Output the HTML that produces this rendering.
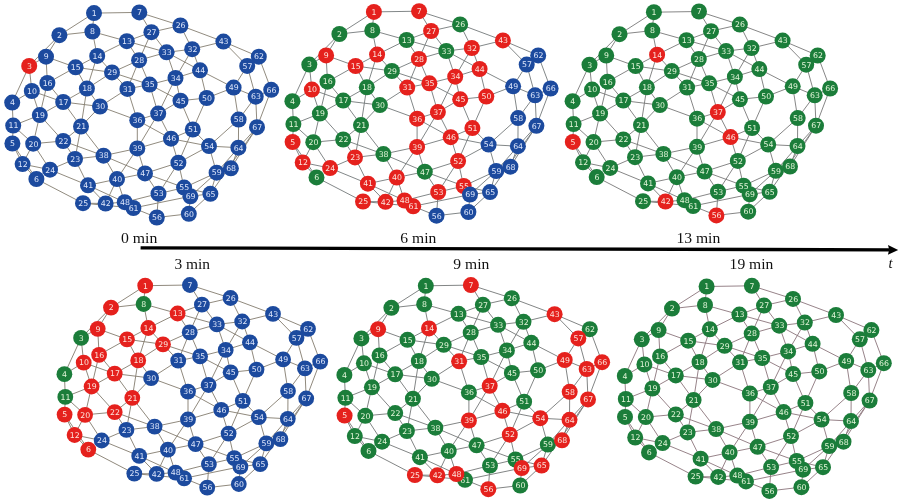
<!DOCTYPE html>
<html><head><meta charset="utf-8"><title>Network propagation over time</title>
<style>
html,body{margin:0;padding:0;background:#fff}
svg{display:block}
.e path{stroke:#7e7c78;stroke-width:0.9;fill:none}
.n text{font-family:"DejaVu Sans","Liberation Sans",sans-serif;font-size:7.8px;text-anchor:middle}
.b{fill:#1c4a9e}.r{fill:#e5211d}.g{fill:#1b7d3a}
.tb{fill:#dde6fb}.tr{fill:#fde4dc}.tg{fill:#e2f5d8}
.lb{font-family:"Liberation Serif",serif;font-size:14.6px;fill:#111}
.it{font-family:"Liberation Serif",serif;font-size:14.6px;font-style:italic;fill:#111}
</style></head><body>
<svg width="901" height="500" viewBox="0 0 901 500">
<rect width="901" height="500" fill="#fff"/>
<g class="e">
<path d="M94.0 13.1L139.3 12.4M94.0 13.1L59.4 35.2M94.0 13.1L92.4 31.6M59.4 35.2L92.4 31.6M59.4 35.2L46.0 56.7M59.4 35.2L29.2 65.9M29.2 65.9L46.0 56.7M29.2 65.9L12.2 102.6M29.2 65.9L31.8 91.0M139.3 12.4L151.4 32.2M139.3 12.4L180.4 25.5M92.4 31.6L126.8 41.2M92.4 31.6L97.2 55.9M46.0 56.7L75.6 67.3M46.0 56.7L47.4 83.0M126.8 41.2L97.2 55.9M126.8 41.2L151.4 32.2M126.8 41.2L166.6 52.3M126.8 41.2L139.1 60.2M97.2 55.9L75.6 67.3M97.2 55.9L86.9 88.6M97.2 55.9L112.0 72.4M75.6 67.3L47.4 83.0M75.6 67.3L86.9 88.6M75.6 67.3L112.0 72.4M31.8 91.0L63.2 102.0M31.8 91.0L39.8 115.1M31.8 91.0L12.2 102.6M47.4 83.0L63.2 102.0M47.4 83.0L39.8 115.1M63.2 102.0L86.9 88.6M63.2 102.0L100.0 106.5M63.2 102.0L39.8 115.1M63.2 102.0L81.0 126.5M86.9 88.6L112.0 72.4M86.9 88.6L100.0 106.5M86.9 88.6L81.0 126.5M39.8 115.1L13.2 125.6M39.8 115.1L33.2 143.7M39.8 115.1L63.2 141.0M12.2 102.6L13.2 125.6M13.2 125.6L12.4 143.5M13.2 125.6L33.2 143.7M12.4 143.5L22.6 164.1M12.4 143.5L36.4 179.0M33.2 143.7L63.2 141.0M33.2 143.7L22.6 164.1M33.2 143.7L50.0 169.7M81.0 126.5L63.2 141.0M81.0 126.5L100.0 106.5M81.0 126.5L75.0 159.0M81.0 126.5L103.5 155.7M63.2 141.0L75.0 159.0M63.2 141.0L103.5 155.7M75.0 159.0L103.5 155.7M75.0 159.0L50.0 169.7M75.0 159.0L88.0 185.3M22.6 164.1L50.0 169.7M22.6 164.1L36.4 179.0M50.0 169.7L88.0 185.3M36.4 179.0L83.0 203.2M100.0 106.5L127.4 88.9M100.0 106.5L137.3 120.2M127.4 88.9L112.0 72.4M127.4 88.9L139.1 60.2M127.4 88.9L149.6 84.6M127.4 88.9L137.3 120.2M112.0 72.4L139.1 60.2M112.0 72.4L149.6 84.6M139.1 60.2L151.4 32.2M139.1 60.2L166.6 52.3M139.1 60.2L149.6 84.6M149.6 84.6L175.5 78.0M149.6 84.6L158.2 113.6M149.6 84.6L180.5 100.7M137.3 120.2L158.2 113.6M137.3 120.2L137.3 148.4M137.3 120.2L171.0 138.7M158.2 113.6L175.5 78.0M158.2 113.6L180.5 100.7M158.2 113.6L171.0 138.7M158.2 113.6L137.3 148.4M103.5 155.7L137.3 148.4M103.5 155.7L117.0 179.1M103.5 155.7L145.0 173.4M137.3 148.4L171.0 138.7M137.3 148.4L145.0 173.4M137.3 148.4L117.0 179.1M117.0 179.1L88.0 185.3M117.0 179.1L145.0 173.4M117.0 179.1L105.6 203.5M117.0 179.1L124.7 202.2M88.0 185.3L105.6 203.5M88.0 185.3L124.7 202.2M83.0 203.2L105.6 203.5M105.6 203.5L124.7 202.2M145.0 173.4L178.4 162.7M145.0 173.4L158.5 193.7M145.0 173.4L184.1 187.6M158.5 193.7L178.4 162.7M158.5 193.7L156.8 217.5M158.5 193.7L184.1 187.6M156.8 217.5L188.8 213.8M188.8 213.8L190.4 196.3M188.8 213.8L210.4 193.8M133.4 208.0L156.8 217.5M180.4 25.5L151.4 32.2M180.4 25.5L223.4 41.6M180.4 25.5L192.2 49.2M151.4 32.2L166.6 52.3M166.6 52.3L192.2 49.2M166.6 52.3L175.5 78.0M166.6 52.3L200.0 70.3M192.2 49.2L223.4 41.6M192.2 49.2L200.0 70.3M192.2 49.2L175.5 78.0M223.4 41.6L258.8 56.7M223.4 41.6L247.2 65.9M258.8 56.7L247.2 65.9M258.8 56.7L271.2 89.8M247.2 65.9L233.6 87.6M247.2 65.9L255.7 96.7M200.0 70.3L175.5 78.0M200.0 70.3L206.7 98.0M200.0 70.3L233.6 87.6M233.6 87.6L206.7 98.0M233.6 87.6L255.7 96.7M233.6 87.6L238.6 119.6M175.5 78.0L180.5 100.7M180.5 100.7L206.7 98.0M180.5 100.7L192.8 129.5M206.7 98.0L192.8 129.5M192.8 129.5L171.0 138.7M192.8 129.5L209.0 146.1M192.8 129.5L178.4 162.7M171.0 138.7L178.4 162.7M171.0 138.7L209.0 146.1M178.4 162.7L209.0 146.1M178.4 162.7L184.1 187.6M209.0 146.1L238.6 119.6M209.0 146.1L238.4 147.7M209.0 146.1L216.6 172.7M238.6 119.6L255.7 96.7M238.6 119.6L238.4 147.7M255.7 96.7L271.2 89.8M255.7 96.7L257.0 127.2M271.2 89.8L257.0 127.2M257.0 127.2L238.4 147.7M257.0 127.2L230.9 168.3M238.4 147.7L230.9 168.3M238.4 147.7L216.6 172.7M257.0 127.2L210.4 193.8M216.6 172.7L184.1 187.6M216.6 172.7L210.4 193.8M216.6 172.7L190.4 196.3M184.1 187.6L190.4 196.3M210.4 193.8L190.4 196.3M124.7 202.2L158.5 193.7M133.4 208.0L190.4 196.3M184.1 187.6L210.4 193.8M83.0 203.2L133.4 208.0" style="stroke:#847e70"/>
</g>
<g class="n">
<circle class="r" cx="29.2" cy="65.9" r="8.0"/>
<text class="tr" x="29.4" y="68.7">3</text>
<circle class="b" cx="94.0" cy="13.1" r="8.0"/>
<circle class="b" cx="59.4" cy="35.2" r="8.0"/>
<circle class="b" cx="12.2" cy="102.6" r="8.0"/>
<circle class="b" cx="12.4" cy="143.5" r="8.0"/>
<circle class="b" cx="36.4" cy="179.0" r="8.0"/>
<circle class="b" cx="139.3" cy="12.4" r="8.0"/>
<circle class="b" cx="92.4" cy="31.6" r="8.0"/>
<circle class="b" cx="46.0" cy="56.7" r="8.0"/>
<circle class="b" cx="31.8" cy="91.0" r="8.0"/>
<circle class="b" cx="13.2" cy="125.6" r="8.0"/>
<circle class="b" cx="22.6" cy="164.1" r="8.0"/>
<circle class="b" cx="126.8" cy="41.2" r="8.0"/>
<circle class="b" cx="97.2" cy="55.9" r="8.0"/>
<circle class="b" cx="75.6" cy="67.3" r="8.0"/>
<circle class="b" cx="47.4" cy="83.0" r="8.0"/>
<circle class="b" cx="63.2" cy="102.0" r="8.0"/>
<circle class="b" cx="86.9" cy="88.6" r="8.0"/>
<circle class="b" cx="39.8" cy="115.1" r="8.0"/>
<circle class="b" cx="33.2" cy="143.7" r="8.0"/>
<circle class="b" cx="81.0" cy="126.5" r="8.0"/>
<circle class="b" cx="63.2" cy="141.0" r="8.0"/>
<circle class="b" cx="75.0" cy="159.0" r="8.0"/>
<circle class="b" cx="50.0" cy="169.7" r="8.0"/>
<circle class="b" cx="83.0" cy="203.2" r="8.0"/>
<circle class="b" cx="180.4" cy="25.5" r="8.0"/>
<circle class="b" cx="151.4" cy="32.2" r="8.0"/>
<circle class="b" cx="139.1" cy="60.2" r="8.0"/>
<circle class="b" cx="112.0" cy="72.4" r="8.0"/>
<circle class="b" cx="100.0" cy="106.5" r="8.0"/>
<circle class="b" cx="127.4" cy="88.9" r="8.0"/>
<circle class="b" cx="192.2" cy="49.2" r="8.0"/>
<circle class="b" cx="166.6" cy="52.3" r="8.0"/>
<circle class="b" cx="175.5" cy="78.0" r="8.0"/>
<circle class="b" cx="149.6" cy="84.6" r="8.0"/>
<circle class="b" cx="137.3" cy="120.2" r="8.0"/>
<circle class="b" cx="158.2" cy="113.6" r="8.0"/>
<circle class="b" cx="103.5" cy="155.7" r="8.0"/>
<circle class="b" cx="137.3" cy="148.4" r="8.0"/>
<circle class="b" cx="117.0" cy="179.1" r="8.0"/>
<circle class="b" cx="88.0" cy="185.3" r="8.0"/>
<circle class="b" cx="105.6" cy="203.5" r="8.0"/>
<circle class="b" cx="223.4" cy="41.6" r="8.0"/>
<circle class="b" cx="200.0" cy="70.3" r="8.0"/>
<circle class="b" cx="180.5" cy="100.7" r="8.0"/>
<circle class="b" cx="171.0" cy="138.7" r="8.0"/>
<circle class="b" cx="145.0" cy="173.4" r="8.0"/>
<circle class="b" cx="124.7" cy="202.2" r="8.0"/>
<circle class="b" cx="233.6" cy="87.6" r="8.0"/>
<circle class="b" cx="206.7" cy="98.0" r="8.0"/>
<circle class="b" cx="192.8" cy="129.5" r="8.0"/>
<circle class="b" cx="178.4" cy="162.7" r="8.0"/>
<circle class="b" cx="158.5" cy="193.7" r="8.0"/>
<circle class="b" cx="209.0" cy="146.1" r="8.0"/>
<circle class="b" cx="184.1" cy="187.6" r="8.0"/>
<circle class="b" cx="156.8" cy="217.5" r="8.0"/>
<circle class="b" cx="238.6" cy="119.6" r="8.0"/>
<circle class="b" cx="188.8" cy="213.8" r="8.0"/>
<circle class="b" cx="133.4" cy="208.0" r="8.0"/>
<circle class="b" cx="258.8" cy="56.7" r="8.0"/>
<circle class="b" cx="255.7" cy="96.7" r="8.0"/>
<circle class="b" cx="238.4" cy="147.7" r="8.0"/>
<circle class="b" cx="210.4" cy="193.8" r="8.0"/>
<circle class="b" cx="271.2" cy="89.8" r="8.0"/>
<circle class="b" cx="257.0" cy="127.2" r="8.0"/>
<circle class="b" cx="230.9" cy="168.3" r="8.0"/>
<circle class="b" cx="190.4" cy="196.3" r="8.0"/>
<circle class="b" cx="247.2" cy="65.9" r="8.0"/>
<circle class="b" cx="216.6" cy="172.7" r="8.0"/>
<text class="tb" x="94.2" y="15.8">1</text>
<text class="tb" x="59.6" y="37.9">2</text>
<text class="tb" x="12.4" y="105.4">4</text>
<text class="tb" x="12.6" y="146.3">5</text>
<text class="tb" x="36.6" y="181.7">6</text>
<text class="tb" x="139.5" y="15.1">7</text>
<text class="tb" x="92.6" y="34.3">8</text>
<text class="tb" x="46.2" y="59.4">9</text>
<text class="tb" x="32.0" y="93.7">10</text>
<text class="tb" x="13.4" y="128.4">11</text>
<text class="tb" x="22.8" y="166.9">12</text>
<text class="tb" x="127.0" y="44.0">13</text>
<text class="tb" x="97.4" y="58.6">14</text>
<text class="tb" x="75.8" y="70.1">15</text>
<text class="tb" x="47.6" y="85.8">16</text>
<text class="tb" x="63.4" y="104.8">17</text>
<text class="tb" x="87.1" y="91.4">18</text>
<text class="tb" x="40.0" y="117.8">19</text>
<text class="tb" x="33.4" y="146.5">20</text>
<text class="tb" x="81.2" y="129.3">21</text>
<text class="tb" x="63.4" y="143.8">22</text>
<text class="tb" x="75.2" y="161.7">23</text>
<text class="tb" x="50.2" y="172.5">24</text>
<text class="tb" x="83.2" y="206.0">25</text>
<text class="tb" x="180.6" y="28.3">26</text>
<text class="tb" x="151.6" y="34.9">27</text>
<text class="tb" x="139.3" y="62.9">28</text>
<text class="tb" x="112.2" y="75.1">29</text>
<text class="tb" x="100.2" y="109.3">30</text>
<text class="tb" x="127.6" y="91.7">31</text>
<text class="tb" x="192.4" y="52.0">32</text>
<text class="tb" x="166.8" y="55.0">33</text>
<text class="tb" x="175.7" y="80.7">34</text>
<text class="tb" x="149.8" y="87.4">35</text>
<text class="tb" x="137.5" y="122.9">36</text>
<text class="tb" x="158.4" y="116.3">37</text>
<text class="tb" x="103.7" y="158.4">38</text>
<text class="tb" x="137.5" y="151.2">39</text>
<text class="tb" x="117.2" y="181.8">40</text>
<text class="tb" x="88.2" y="188.1">41</text>
<text class="tb" x="105.8" y="206.3">42</text>
<text class="tb" x="223.6" y="44.4">43</text>
<text class="tb" x="200.2" y="73.1">44</text>
<text class="tb" x="180.7" y="103.5">45</text>
<text class="tb" x="171.2" y="141.4">46</text>
<text class="tb" x="145.2" y="176.1">47</text>
<text class="tb" x="124.9" y="205.0">48</text>
<text class="tb" x="233.8" y="90.4">49</text>
<text class="tb" x="206.9" y="100.7">50</text>
<text class="tb" x="193.0" y="132.3">51</text>
<text class="tb" x="178.6" y="165.5">52</text>
<text class="tb" x="158.7" y="196.4">53</text>
<text class="tb" x="209.2" y="148.9">54</text>
<text class="tb" x="184.3" y="190.4">55</text>
<text class="tb" x="157.0" y="220.2">56</text>
<text class="tb" x="238.8" y="122.3">58</text>
<text class="tb" x="189.0" y="216.5">60</text>
<text class="tb" x="133.6" y="210.8">61</text>
<text class="tb" x="259.0" y="59.4">62</text>
<text class="tb" x="255.9" y="99.4">63</text>
<text class="tb" x="238.6" y="150.5">64</text>
<text class="tb" x="210.6" y="196.5">65</text>
<text class="tb" x="271.4" y="92.6">66</text>
<text class="tb" x="257.2" y="130.0">67</text>
<text class="tb" x="231.1" y="171.1">68</text>
<text class="tb" x="190.6" y="199.0">69</text>
<text class="tb" x="247.4" y="68.7">57</text>
<text class="tb" x="216.8" y="175.4">59</text>
</g>
<g class="e">
<path d="M373.9 11.9L419.1 11.2M373.9 11.9L339.4 34.0M373.9 11.9L372.3 30.4M339.4 34.0L372.3 30.4M339.4 34.0L326.1 55.4M339.4 34.0L309.3 64.6M309.3 64.6L326.1 55.4M309.3 64.6L292.4 101.2M309.3 64.6L311.9 89.6M419.1 11.2L431.1 31.0M419.1 11.2L460.1 24.4M372.3 30.4L406.6 40.0M372.3 30.4L377.1 54.6M326.1 55.4L355.6 66.0M326.1 55.4L327.5 81.7M406.6 40.0L377.1 54.6M406.6 40.0L431.1 31.0M406.6 40.0L446.3 51.0M406.6 40.0L418.9 58.9M377.1 54.6L355.6 66.0M377.1 54.6L366.8 87.3M377.1 54.6L391.9 71.0M355.6 66.0L327.5 81.7M355.6 66.0L366.8 87.3M355.6 66.0L391.9 71.0M311.9 89.6L343.2 100.6M311.9 89.6L319.9 113.6M311.9 89.6L292.4 101.2M327.5 81.7L343.2 100.6M327.5 81.7L319.9 113.6M343.2 100.6L366.8 87.3M343.2 100.6L379.9 105.1M343.2 100.6L319.9 113.6M343.2 100.6L361.0 125.1M366.8 87.3L391.9 71.0M366.8 87.3L379.9 105.1M366.8 87.3L361.0 125.1M319.9 113.6L293.4 124.1M319.9 113.6L313.3 142.2M319.9 113.6L343.2 139.5M292.4 101.2L293.4 124.1M293.4 124.1L292.6 142.0M293.4 124.1L313.3 142.2M292.6 142.0L302.7 162.5M292.6 142.0L316.5 177.4M313.3 142.2L343.2 139.5M313.3 142.2L302.7 162.5M313.3 142.2L330.1 168.1M361.0 125.1L343.2 139.5M361.0 125.1L379.9 105.1M361.0 125.1L355.0 157.4M361.0 125.1L383.4 154.1M343.2 139.5L355.0 157.4M343.2 139.5L383.4 154.1M355.0 157.4L383.4 154.1M355.0 157.4L330.1 168.1M355.0 157.4L367.9 183.7M302.7 162.5L330.1 168.1M302.7 162.5L316.5 177.4M330.1 168.1L367.9 183.7M316.5 177.4L363.0 201.5M379.9 105.1L407.2 87.6M379.9 105.1L417.1 118.7M407.2 87.6L391.9 71.0M407.2 87.6L418.9 58.9M407.2 87.6L429.4 83.3M407.2 87.6L417.1 118.7M391.9 71.0L418.9 58.9M391.9 71.0L429.4 83.3M418.9 58.9L431.1 31.0M418.9 58.9L446.3 51.0M418.9 58.9L429.4 83.3M429.4 83.3L455.2 76.7M429.4 83.3L437.9 112.1M429.4 83.3L460.2 99.3M417.1 118.7L437.9 112.1M417.1 118.7L417.1 146.9M417.1 118.7L450.7 137.2M437.9 112.1L455.2 76.7M437.9 112.1L460.2 99.3M437.9 112.1L450.7 137.2M437.9 112.1L417.1 146.9M383.4 154.1L417.1 146.9M383.4 154.1L396.8 177.5M383.4 154.1L424.8 171.7M417.1 146.9L450.7 137.2M417.1 146.9L424.8 171.7M417.1 146.9L396.8 177.5M396.8 177.5L367.9 183.7M396.8 177.5L424.8 171.7M396.8 177.5L385.5 201.8M396.8 177.5L404.5 200.5M367.9 183.7L385.5 201.8M367.9 183.7L404.5 200.5M363.0 201.5L385.5 201.8M385.5 201.8L404.5 200.5M424.8 171.7L458.1 161.1M424.8 171.7L438.2 192.0M424.8 171.7L463.7 186.0M438.2 192.0L458.1 161.1M438.2 192.0L436.5 215.7M438.2 192.0L463.7 186.0M436.5 215.7L468.4 212.0M468.4 212.0L470.0 194.6M468.4 212.0L490.0 192.1M413.2 206.3L436.5 215.7M460.1 24.4L431.1 31.0M460.1 24.4L502.9 40.4M460.1 24.4L471.8 48.0M431.1 31.0L446.3 51.0M446.3 51.0L471.8 48.0M446.3 51.0L455.2 76.7M446.3 51.0L479.6 69.0M471.8 48.0L502.9 40.4M471.8 48.0L479.6 69.0M471.8 48.0L455.2 76.7M502.9 40.4L538.2 55.4M502.9 40.4L526.7 64.6M538.2 55.4L526.7 64.6M538.2 55.4L550.6 88.5M526.7 64.6L513.1 86.3M526.7 64.6L535.1 95.3M479.6 69.0L455.2 76.7M479.6 69.0L486.3 96.6M479.6 69.0L513.1 86.3M513.1 86.3L486.3 96.6M513.1 86.3L535.1 95.3M513.1 86.3L518.1 118.1M455.2 76.7L460.2 99.3M460.2 99.3L486.3 96.6M460.2 99.3L472.4 128.1M486.3 96.6L472.4 128.1M472.4 128.1L450.7 137.2M472.4 128.1L488.6 144.6M472.4 128.1L458.1 161.1M450.7 137.2L458.1 161.1M450.7 137.2L488.6 144.6M458.1 161.1L488.6 144.6M458.1 161.1L463.7 186.0M488.6 144.6L518.1 118.1M488.6 144.6L517.9 146.2M488.6 144.6L496.2 171.0M518.1 118.1L535.1 95.3M518.1 118.1L517.9 146.2M535.1 95.3L550.6 88.5M535.1 95.3L536.4 125.8M550.6 88.5L536.4 125.8M536.4 125.8L517.9 146.2M536.4 125.8L510.4 166.7M517.9 146.2L510.4 166.7M517.9 146.2L496.2 171.0M536.4 125.8L490.0 192.1M496.2 171.0L463.7 186.0M496.2 171.0L490.0 192.1M496.2 171.0L470.0 194.6M463.7 186.0L470.0 194.6M490.0 192.1L470.0 194.6M404.5 200.5L438.2 192.0M413.2 206.3L470.0 194.6M463.7 186.0L490.0 192.1M363.0 201.5L413.2 206.3" style="stroke:#74797a"/>
</g>
<g class="n">
<circle class="g" cx="339.4" cy="34.0" r="8.0"/>
<circle class="g" cx="309.3" cy="64.6" r="8.0"/>
<circle class="g" cx="292.4" cy="101.2" r="8.0"/>
<circle class="g" cx="316.5" cy="177.4" r="8.0"/>
<circle class="g" cx="372.3" cy="30.4" r="8.0"/>
<circle class="g" cx="293.4" cy="124.1" r="8.0"/>
<circle class="g" cx="406.6" cy="40.0" r="8.0"/>
<circle class="g" cx="327.5" cy="81.7" r="8.0"/>
<circle class="g" cx="343.2" cy="100.6" r="8.0"/>
<circle class="g" cx="366.8" cy="87.3" r="8.0"/>
<circle class="g" cx="319.9" cy="113.6" r="8.0"/>
<circle class="g" cx="313.3" cy="142.2" r="8.0"/>
<circle class="g" cx="361.0" cy="125.1" r="8.0"/>
<circle class="g" cx="343.2" cy="139.5" r="8.0"/>
<circle class="g" cx="460.1" cy="24.4" r="8.0"/>
<circle class="g" cx="391.9" cy="71.0" r="8.0"/>
<circle class="g" cx="379.9" cy="105.1" r="8.0"/>
<circle class="g" cx="446.3" cy="51.0" r="8.0"/>
<circle class="g" cx="383.4" cy="154.1" r="8.0"/>
<circle class="g" cx="424.8" cy="171.7" r="8.0"/>
<text class="tg" x="339.6" y="36.7">2</text>
<text class="tg" x="309.5" y="67.4">3</text>
<text class="tg" x="292.6" y="104.0">4</text>
<text class="tg" x="316.7" y="180.1">6</text>
<text class="tg" x="372.5" y="33.1">8</text>
<text class="tg" x="293.6" y="126.9">11</text>
<text class="tg" x="406.8" y="42.7">13</text>
<text class="tg" x="327.7" y="84.4">16</text>
<text class="tg" x="343.4" y="103.4">17</text>
<text class="tg" x="367.0" y="90.0">18</text>
<text class="tg" x="320.1" y="116.4">19</text>
<text class="tg" x="313.5" y="144.9">20</text>
<text class="tg" x="361.2" y="127.8">21</text>
<text class="tg" x="343.4" y="142.2">22</text>
<text class="tg" x="460.3" y="27.1">26</text>
<text class="tg" x="392.1" y="73.8">29</text>
<text class="tg" x="380.1" y="107.9">30</text>
<text class="tg" x="446.5" y="53.8">33</text>
<text class="tg" x="383.6" y="156.9">38</text>
<text class="tg" x="425.0" y="174.5">47</text>
<circle class="r" cx="373.9" cy="11.9" r="8.0"/>
<circle class="r" cx="292.6" cy="142.0" r="8.0"/>
<circle class="r" cx="419.1" cy="11.2" r="8.0"/>
<circle class="r" cx="326.1" cy="55.4" r="8.0"/>
<circle class="r" cx="311.9" cy="89.6" r="8.0"/>
<circle class="r" cx="302.7" cy="162.5" r="8.0"/>
<circle class="r" cx="377.1" cy="54.6" r="8.0"/>
<circle class="r" cx="355.6" cy="66.0" r="8.0"/>
<circle class="r" cx="355.0" cy="157.4" r="8.0"/>
<circle class="r" cx="330.1" cy="168.1" r="8.0"/>
<circle class="r" cx="363.0" cy="201.5" r="8.0"/>
<circle class="r" cx="431.1" cy="31.0" r="8.0"/>
<circle class="r" cx="418.9" cy="58.9" r="8.0"/>
<circle class="r" cx="407.2" cy="87.6" r="8.0"/>
<circle class="r" cx="471.8" cy="48.0" r="8.0"/>
<circle class="r" cx="455.2" cy="76.7" r="8.0"/>
<circle class="r" cx="429.4" cy="83.3" r="8.0"/>
<circle class="r" cx="417.1" cy="118.7" r="8.0"/>
<circle class="r" cx="437.9" cy="112.1" r="8.0"/>
<circle class="r" cx="417.1" cy="146.9" r="8.0"/>
<circle class="r" cx="396.8" cy="177.5" r="8.0"/>
<circle class="r" cx="367.9" cy="183.7" r="8.0"/>
<circle class="r" cx="385.5" cy="201.8" r="8.0"/>
<circle class="r" cx="502.9" cy="40.4" r="8.0"/>
<circle class="r" cx="479.6" cy="69.0" r="8.0"/>
<circle class="r" cx="460.2" cy="99.3" r="8.0"/>
<circle class="r" cx="450.7" cy="137.2" r="8.0"/>
<circle class="r" cx="404.5" cy="200.5" r="8.0"/>
<circle class="r" cx="486.3" cy="96.6" r="8.0"/>
<circle class="r" cx="472.4" cy="128.1" r="8.0"/>
<circle class="r" cx="458.1" cy="161.1" r="8.0"/>
<circle class="r" cx="438.2" cy="192.0" r="8.0"/>
<circle class="r" cx="463.7" cy="186.0" r="8.0"/>
<circle class="r" cx="413.2" cy="206.3" r="8.0"/>
<text class="tr" x="374.1" y="14.7">1</text>
<text class="tr" x="292.8" y="144.7">5</text>
<text class="tr" x="419.3" y="14.0">7</text>
<text class="tr" x="326.3" y="58.2">9</text>
<text class="tr" x="312.1" y="92.3">10</text>
<text class="tr" x="302.9" y="165.3">12</text>
<text class="tr" x="377.3" y="57.4">14</text>
<text class="tr" x="355.8" y="68.8">15</text>
<text class="tr" x="355.2" y="160.2">23</text>
<text class="tr" x="330.2" y="170.9">24</text>
<text class="tr" x="363.2" y="204.3">25</text>
<text class="tr" x="431.3" y="33.7">27</text>
<text class="tr" x="419.1" y="61.7">28</text>
<text class="tr" x="407.4" y="90.3">31</text>
<text class="tr" x="472.0" y="50.7">32</text>
<text class="tr" x="455.4" y="79.4">34</text>
<text class="tr" x="429.6" y="86.0">35</text>
<text class="tr" x="417.3" y="121.5">36</text>
<text class="tr" x="438.1" y="114.9">37</text>
<text class="tr" x="417.3" y="149.6">39</text>
<text class="tr" x="397.0" y="180.2">40</text>
<text class="tr" x="368.1" y="186.4">41</text>
<text class="tr" x="385.7" y="204.6">42</text>
<text class="tr" x="503.1" y="43.1">43</text>
<text class="tr" x="479.8" y="71.8">44</text>
<text class="tr" x="460.4" y="102.0">45</text>
<text class="tr" x="450.9" y="139.9">46</text>
<text class="tr" x="404.7" y="203.3">48</text>
<text class="tr" x="486.5" y="99.3">50</text>
<text class="tr" x="472.6" y="130.8">51</text>
<text class="tr" x="458.3" y="163.9">52</text>
<text class="tr" x="438.4" y="194.7">53</text>
<text class="tr" x="463.9" y="188.7">55</text>
<text class="tr" x="413.4" y="209.1">61</text>
<circle class="b" cx="513.1" cy="86.3" r="8.0"/>
<circle class="b" cx="488.6" cy="144.6" r="8.0"/>
<circle class="b" cx="436.5" cy="215.7" r="8.0"/>
<circle class="b" cx="518.1" cy="118.1" r="8.0"/>
<circle class="b" cx="468.4" cy="212.0" r="8.0"/>
<circle class="b" cx="538.2" cy="55.4" r="8.0"/>
<circle class="b" cx="535.1" cy="95.3" r="8.0"/>
<circle class="b" cx="517.9" cy="146.2" r="8.0"/>
<circle class="b" cx="490.0" cy="192.1" r="8.0"/>
<circle class="b" cx="550.6" cy="88.5" r="8.0"/>
<circle class="b" cx="536.4" cy="125.8" r="8.0"/>
<circle class="b" cx="510.4" cy="166.7" r="8.0"/>
<circle class="b" cx="470.0" cy="194.6" r="8.0"/>
<circle class="b" cx="526.7" cy="64.6" r="8.0"/>
<circle class="b" cx="496.2" cy="171.0" r="8.0"/>
<text class="tb" x="513.3" y="89.0">49</text>
<text class="tb" x="488.8" y="147.3">54</text>
<text class="tb" x="436.7" y="218.5">56</text>
<text class="tb" x="518.3" y="120.9">58</text>
<text class="tb" x="468.6" y="214.8">60</text>
<text class="tb" x="538.4" y="58.2">62</text>
<text class="tb" x="535.3" y="98.0">63</text>
<text class="tb" x="518.1" y="148.9">64</text>
<text class="tb" x="490.2" y="194.8">65</text>
<text class="tb" x="550.8" y="91.2">66</text>
<text class="tb" x="536.6" y="128.5">67</text>
<text class="tb" x="510.6" y="169.5">68</text>
<text class="tb" x="470.2" y="197.3">69</text>
<text class="tb" x="526.9" y="67.4">57</text>
<text class="tb" x="496.4" y="173.8">59</text>
</g>
<g class="e">
<path d="M653.9 12.2L699.0 11.5M653.9 12.2L619.5 34.2M653.9 12.2L652.3 30.6M619.5 34.2L652.3 30.6M619.5 34.2L606.2 55.5M619.5 34.2L589.5 64.7M589.5 64.7L606.2 55.5M589.5 64.7L572.6 101.2M589.5 64.7L592.1 89.6M699.0 11.5L711.0 31.2M699.0 11.5L739.8 24.6M652.3 30.6L686.5 40.2M652.3 30.6L657.1 54.7M606.2 55.5L635.6 66.1M606.2 55.5L607.6 81.7M686.5 40.2L657.1 54.7M686.5 40.2L711.0 31.2M686.5 40.2L726.1 51.1M686.5 40.2L698.8 59.0M657.1 54.7L635.6 66.1M657.1 54.7L646.9 87.3M657.1 54.7L671.8 71.1M635.6 66.1L607.6 81.7M635.6 66.1L646.9 87.3M635.6 66.1L671.8 71.1M592.1 89.6L623.3 100.6M592.1 89.6L600.1 113.6M592.1 89.6L572.6 101.2M607.6 81.7L623.3 100.6M607.6 81.7L600.1 113.6M623.3 100.6L646.9 87.3M623.3 100.6L659.9 105.1M623.3 100.6L600.1 113.6M623.3 100.6L641.0 125.0M646.9 87.3L671.8 71.1M646.9 87.3L659.9 105.1M646.9 87.3L641.0 125.0M600.1 113.6L573.6 124.1M600.1 113.6L593.5 142.1M600.1 113.6L623.3 139.4M572.6 101.2L573.6 124.1M573.6 124.1L572.8 141.9M573.6 124.1L593.5 142.1M572.8 141.9L583.0 162.3M572.8 141.9L596.7 177.1M593.5 142.1L623.3 139.4M593.5 142.1L583.0 162.3M593.5 142.1L610.2 167.9M641.0 125.0L623.3 139.4M641.0 125.0L659.9 105.1M641.0 125.0L635.0 157.2M641.0 125.0L663.4 153.9M623.3 139.4L635.0 157.2M623.3 139.4L663.4 153.9M635.0 157.2L663.4 153.9M635.0 157.2L610.2 167.9M635.0 157.2L648.0 183.4M583.0 162.3L610.2 167.9M583.0 162.3L596.7 177.1M610.2 167.9L648.0 183.4M596.7 177.1L643.0 201.2M659.9 105.1L687.1 87.6M659.9 105.1L697.0 118.7M687.1 87.6L671.8 71.1M687.1 87.6L698.8 59.0M687.1 87.6L709.2 83.3M687.1 87.6L697.0 118.7M671.8 71.1L698.8 59.0M671.8 71.1L709.2 83.3M698.8 59.0L711.0 31.2M698.8 59.0L726.1 51.1M698.8 59.0L709.2 83.3M709.2 83.3L734.9 76.7M709.2 83.3L717.8 112.1M709.2 83.3L739.9 99.3M697.0 118.7L717.8 112.1M697.0 118.7L697.0 146.8M697.0 118.7L730.5 137.1M717.8 112.1L734.9 76.7M717.8 112.1L739.9 99.3M717.8 112.1L730.5 137.1M717.8 112.1L697.0 146.8M663.4 153.9L697.0 146.8M663.4 153.9L676.8 177.2M663.4 153.9L704.6 171.5M697.0 146.8L730.5 137.1M697.0 146.8L704.6 171.5M697.0 146.8L676.8 177.2M676.8 177.2L648.0 183.4M676.8 177.2L704.6 171.5M676.8 177.2L665.5 201.5M676.8 177.2L684.5 200.2M648.0 183.4L665.5 201.5M648.0 183.4L684.5 200.2M643.0 201.2L665.5 201.5M665.5 201.5L684.5 200.2M704.6 171.5L737.8 160.9M704.6 171.5L718.0 191.7M704.6 171.5L743.5 185.7M718.0 191.7L737.8 160.9M718.0 191.7L716.4 215.4M718.0 191.7L743.5 185.7M716.4 215.4L748.2 211.7M748.2 211.7L749.8 194.3M748.2 211.7L769.6 191.8M693.1 206.0L716.4 215.4M739.8 24.6L711.0 31.2M739.8 24.6L782.6 40.6M739.8 24.6L751.5 48.1M711.0 31.2L726.1 51.1M726.1 51.1L751.5 48.1M726.1 51.1L734.9 76.7M726.1 51.1L759.3 69.1M751.5 48.1L782.6 40.6M751.5 48.1L759.3 69.1M751.5 48.1L734.9 76.7M782.6 40.6L817.7 55.5M782.6 40.6L806.2 64.7M817.7 55.5L806.2 64.7M817.7 55.5L830.1 88.5M806.2 64.7L792.7 86.3M806.2 64.7L814.7 95.3M759.3 69.1L734.9 76.7M759.3 69.1L766.0 96.6M759.3 69.1L792.7 86.3M792.7 86.3L766.0 96.6M792.7 86.3L814.7 95.3M792.7 86.3L797.7 118.1M734.9 76.7L739.9 99.3M739.9 99.3L766.0 96.6M739.9 99.3L752.1 128.0M766.0 96.6L752.1 128.0M752.1 128.0L730.5 137.1M752.1 128.0L768.2 144.5M752.1 128.0L737.8 160.9M730.5 137.1L737.8 160.9M730.5 137.1L768.2 144.5M737.8 160.9L768.2 144.5M737.8 160.9L743.5 185.7M768.2 144.5L797.7 118.1M768.2 144.5L797.5 146.0M768.2 144.5L775.8 170.8M797.7 118.1L814.7 95.3M797.7 118.1L797.5 146.0M814.7 95.3L830.1 88.5M814.7 95.3L816.0 125.7M830.1 88.5L816.0 125.7M816.0 125.7L797.5 146.0M816.0 125.7L790.0 166.5M797.5 146.0L790.0 166.5M797.5 146.0L775.8 170.8M816.0 125.7L769.6 191.8M775.8 170.8L743.5 185.7M775.8 170.8L769.6 191.8M775.8 170.8L749.8 194.3M743.5 185.7L749.8 194.3M769.6 191.8L749.8 194.3M684.5 200.2L718.0 191.7M693.1 206.0L749.8 194.3M743.5 185.7L769.6 191.8M643.0 201.2L693.1 206.0" style="stroke:#787878"/>
</g>
<g class="n">
<circle class="g" cx="653.9" cy="12.2" r="8.0"/>
<circle class="g" cx="619.5" cy="34.2" r="8.0"/>
<circle class="g" cx="589.5" cy="64.7" r="8.0"/>
<circle class="g" cx="572.6" cy="101.2" r="8.0"/>
<circle class="g" cx="596.7" cy="177.1" r="8.0"/>
<circle class="g" cx="699.0" cy="11.5" r="8.0"/>
<circle class="g" cx="652.3" cy="30.6" r="8.0"/>
<circle class="g" cx="606.2" cy="55.5" r="8.0"/>
<circle class="g" cx="592.1" cy="89.6" r="8.0"/>
<circle class="g" cx="573.6" cy="124.1" r="8.0"/>
<circle class="g" cx="583.0" cy="162.3" r="8.0"/>
<circle class="g" cx="686.5" cy="40.2" r="8.0"/>
<circle class="g" cx="635.6" cy="66.1" r="8.0"/>
<circle class="g" cx="607.6" cy="81.7" r="8.0"/>
<circle class="g" cx="623.3" cy="100.6" r="8.0"/>
<circle class="g" cx="646.9" cy="87.3" r="8.0"/>
<circle class="g" cx="600.1" cy="113.6" r="8.0"/>
<circle class="g" cx="593.5" cy="142.1" r="8.0"/>
<circle class="g" cx="641.0" cy="125.0" r="8.0"/>
<circle class="g" cx="623.3" cy="139.4" r="8.0"/>
<circle class="g" cx="635.0" cy="157.2" r="8.0"/>
<circle class="g" cx="610.2" cy="167.9" r="8.0"/>
<circle class="g" cx="643.0" cy="201.2" r="8.0"/>
<circle class="g" cx="739.8" cy="24.6" r="8.0"/>
<circle class="g" cx="711.0" cy="31.2" r="8.0"/>
<circle class="g" cx="698.8" cy="59.0" r="8.0"/>
<circle class="g" cx="671.8" cy="71.1" r="8.0"/>
<circle class="g" cx="659.9" cy="105.1" r="8.0"/>
<circle class="g" cx="687.1" cy="87.6" r="8.0"/>
<circle class="g" cx="751.5" cy="48.1" r="8.0"/>
<circle class="g" cx="726.1" cy="51.1" r="8.0"/>
<circle class="g" cx="734.9" cy="76.7" r="8.0"/>
<circle class="g" cx="709.2" cy="83.3" r="8.0"/>
<circle class="g" cx="697.0" cy="118.7" r="8.0"/>
<circle class="g" cx="663.4" cy="153.9" r="8.0"/>
<circle class="g" cx="697.0" cy="146.8" r="8.0"/>
<circle class="g" cx="676.8" cy="177.2" r="8.0"/>
<circle class="g" cx="648.0" cy="183.4" r="8.0"/>
<circle class="g" cx="782.6" cy="40.6" r="8.0"/>
<circle class="g" cx="759.3" cy="69.1" r="8.0"/>
<circle class="g" cx="739.9" cy="99.3" r="8.0"/>
<circle class="g" cx="704.6" cy="171.5" r="8.0"/>
<circle class="g" cx="684.5" cy="200.2" r="8.0"/>
<circle class="g" cx="792.7" cy="86.3" r="8.0"/>
<circle class="g" cx="766.0" cy="96.6" r="8.0"/>
<circle class="g" cx="752.1" cy="128.0" r="8.0"/>
<circle class="g" cx="737.8" cy="160.9" r="8.0"/>
<circle class="g" cx="718.0" cy="191.7" r="8.0"/>
<circle class="g" cx="768.2" cy="144.5" r="8.0"/>
<circle class="g" cx="743.5" cy="185.7" r="8.0"/>
<circle class="g" cx="797.7" cy="118.1" r="8.0"/>
<circle class="g" cx="748.2" cy="211.7" r="8.0"/>
<circle class="g" cx="693.1" cy="206.0" r="8.0"/>
<circle class="g" cx="817.7" cy="55.5" r="8.0"/>
<circle class="g" cx="814.7" cy="95.3" r="8.0"/>
<circle class="g" cx="797.5" cy="146.0" r="8.0"/>
<circle class="g" cx="769.6" cy="191.8" r="8.0"/>
<circle class="g" cx="830.1" cy="88.5" r="8.0"/>
<circle class="g" cx="816.0" cy="125.7" r="8.0"/>
<circle class="g" cx="790.0" cy="166.5" r="8.0"/>
<circle class="g" cx="749.8" cy="194.3" r="8.0"/>
<circle class="g" cx="806.2" cy="64.7" r="8.0"/>
<circle class="g" cx="775.8" cy="170.8" r="8.0"/>
<text class="tg" x="654.1" y="14.9">1</text>
<text class="tg" x="619.7" y="36.9">2</text>
<text class="tg" x="589.7" y="67.5">3</text>
<text class="tg" x="572.8" y="103.9">4</text>
<text class="tg" x="596.9" y="179.9">6</text>
<text class="tg" x="699.2" y="14.2">7</text>
<text class="tg" x="652.5" y="33.3">8</text>
<text class="tg" x="606.4" y="58.3">9</text>
<text class="tg" x="592.3" y="92.4">10</text>
<text class="tg" x="573.8" y="126.8">11</text>
<text class="tg" x="583.2" y="165.1">12</text>
<text class="tg" x="686.7" y="42.9">13</text>
<text class="tg" x="635.8" y="68.9">15</text>
<text class="tg" x="607.8" y="84.5">16</text>
<text class="tg" x="623.5" y="103.3">17</text>
<text class="tg" x="647.1" y="90.1">18</text>
<text class="tg" x="600.3" y="116.3">19</text>
<text class="tg" x="593.7" y="144.8">20</text>
<text class="tg" x="641.2" y="127.7">21</text>
<text class="tg" x="623.5" y="142.1">22</text>
<text class="tg" x="635.2" y="160.0">23</text>
<text class="tg" x="610.4" y="170.7">24</text>
<text class="tg" x="643.2" y="203.9">25</text>
<text class="tg" x="740.0" y="27.3">26</text>
<text class="tg" x="711.2" y="33.9">27</text>
<text class="tg" x="699.0" y="61.8">28</text>
<text class="tg" x="672.0" y="73.9">29</text>
<text class="tg" x="660.1" y="107.8">30</text>
<text class="tg" x="687.3" y="90.4">31</text>
<text class="tg" x="751.7" y="50.9">32</text>
<text class="tg" x="726.3" y="53.9">33</text>
<text class="tg" x="735.1" y="79.5">34</text>
<text class="tg" x="709.4" y="86.1">35</text>
<text class="tg" x="697.2" y="121.4">36</text>
<text class="tg" x="663.6" y="156.7">38</text>
<text class="tg" x="697.2" y="149.5">39</text>
<text class="tg" x="677.0" y="180.0">40</text>
<text class="tg" x="648.2" y="186.2">41</text>
<text class="tg" x="782.8" y="43.3">43</text>
<text class="tg" x="759.5" y="71.9">44</text>
<text class="tg" x="740.1" y="102.0">45</text>
<text class="tg" x="704.8" y="174.3">47</text>
<text class="tg" x="684.7" y="202.9">48</text>
<text class="tg" x="792.9" y="89.1">49</text>
<text class="tg" x="766.2" y="99.3">50</text>
<text class="tg" x="752.3" y="130.7">51</text>
<text class="tg" x="738.0" y="163.7">52</text>
<text class="tg" x="718.2" y="194.5">53</text>
<text class="tg" x="768.4" y="147.2">54</text>
<text class="tg" x="743.7" y="188.5">55</text>
<text class="tg" x="797.9" y="120.8">58</text>
<text class="tg" x="748.4" y="214.4">60</text>
<text class="tg" x="693.3" y="208.7">61</text>
<text class="tg" x="817.9" y="58.3">62</text>
<text class="tg" x="814.9" y="98.1">63</text>
<text class="tg" x="797.7" y="148.8">64</text>
<text class="tg" x="769.8" y="194.6">65</text>
<text class="tg" x="830.3" y="91.3">66</text>
<text class="tg" x="816.2" y="128.4">67</text>
<text class="tg" x="790.2" y="169.3">68</text>
<text class="tg" x="750.0" y="197.1">69</text>
<text class="tg" x="806.4" y="67.5">57</text>
<text class="tg" x="776.0" y="173.6">59</text>
<circle class="r" cx="572.8" cy="141.9" r="8.0"/>
<circle class="r" cx="657.1" cy="54.7" r="8.0"/>
<circle class="r" cx="717.8" cy="112.1" r="8.0"/>
<circle class="r" cx="665.5" cy="201.5" r="8.0"/>
<circle class="r" cx="730.5" cy="137.1" r="8.0"/>
<circle class="r" cx="716.4" cy="215.4" r="8.0"/>
<text class="tr" x="573.0" y="144.6">5</text>
<text class="tr" x="657.3" y="57.5">14</text>
<text class="tr" x="718.0" y="114.8">37</text>
<text class="tr" x="665.7" y="204.2">42</text>
<text class="tr" x="730.7" y="139.8">46</text>
<text class="tr" x="716.6" y="218.1">56</text>
</g>
<g class="e">
<path d="M145.2 285.7L189.9 285.0M145.2 285.7L111.0 307.6M145.2 285.7L143.6 304.0M111.0 307.6L143.6 304.0M111.0 307.6L97.7 328.8M111.0 307.6L81.1 337.9M81.1 337.9L97.7 328.8M81.1 337.9L64.4 374.2M81.1 337.9L83.7 362.7M189.9 285.0L201.9 304.6M189.9 285.0L230.5 298.0M143.6 304.0L177.6 313.5M143.6 304.0L148.3 328.0M97.7 328.8L127.0 339.3M97.7 328.8L99.1 354.8M177.6 313.5L148.3 328.0M177.6 313.5L201.9 304.6M177.6 313.5L216.9 324.4M177.6 313.5L189.7 332.3M148.3 328.0L127.0 339.3M148.3 328.0L138.2 360.4M148.3 328.0L163.0 344.3M127.0 339.3L99.1 354.8M127.0 339.3L138.2 360.4M127.0 339.3L163.0 344.3M83.7 362.7L114.7 373.6M83.7 362.7L91.6 386.5M83.7 362.7L64.4 374.2M99.1 354.8L114.7 373.6M99.1 354.8L91.6 386.5M114.7 373.6L138.2 360.4M114.7 373.6L151.1 378.1M114.7 373.6L91.6 386.5M114.7 373.6L132.3 397.8M138.2 360.4L163.0 344.3M138.2 360.4L151.1 378.1M138.2 360.4L132.3 397.8M91.6 386.5L65.3 396.9M91.6 386.5L85.1 414.8M91.6 386.5L114.7 412.1M64.4 374.2L65.3 396.9M65.3 396.9L64.6 414.6M65.3 396.9L85.1 414.8M64.6 414.6L74.6 435.0M64.6 414.6L88.3 449.6M85.1 414.8L114.7 412.1M85.1 414.8L74.6 435.0M85.1 414.8L101.7 440.5M132.3 397.8L114.7 412.1M132.3 397.8L151.1 378.1M132.3 397.8L126.4 429.9M132.3 397.8L154.6 426.6M114.7 412.1L126.4 429.9M114.7 412.1L154.6 426.6M126.4 429.9L154.6 426.6M126.4 429.9L101.7 440.5M126.4 429.9L139.2 455.9M74.6 435.0L101.7 440.5M74.6 435.0L88.3 449.6M101.7 440.5L139.2 455.9M88.3 449.6L134.3 473.6M151.1 378.1L178.2 360.7M151.1 378.1L188.0 391.6M178.2 360.7L163.0 344.3M178.2 360.7L189.7 332.3M178.2 360.7L200.1 356.4M178.2 360.7L188.0 391.6M163.0 344.3L189.7 332.3M163.0 344.3L200.1 356.4M189.7 332.3L201.9 304.6M189.7 332.3L216.9 324.4M189.7 332.3L200.1 356.4M200.1 356.4L225.7 349.9M200.1 356.4L208.6 385.0M200.1 356.4L230.6 372.3M188.0 391.6L208.6 385.0M188.0 391.6L188.0 419.5M188.0 391.6L221.2 409.8M208.6 385.0L225.7 349.9M208.6 385.0L230.6 372.3M208.6 385.0L221.2 409.8M208.6 385.0L188.0 419.5M154.6 426.6L188.0 419.5M154.6 426.6L167.9 449.7M154.6 426.6L195.6 444.1M188.0 419.5L221.2 409.8M188.0 419.5L195.6 444.1M188.0 419.5L167.9 449.7M167.9 449.7L139.2 455.9M167.9 449.7L195.6 444.1M167.9 449.7L156.6 473.9M167.9 449.7L175.5 472.6M139.2 455.9L156.6 473.9M139.2 455.9L175.5 472.6M134.3 473.6L156.6 473.9M156.6 473.9L175.5 472.6M195.6 444.1L228.6 433.6M195.6 444.1L208.9 464.1M195.6 444.1L234.2 458.2M208.9 464.1L228.6 433.6M208.9 464.1L207.2 487.7M208.9 464.1L234.2 458.2M207.2 487.7L238.8 484.0M238.8 484.0L240.4 466.7M238.8 484.0L260.2 464.2M184.1 478.3L207.2 487.7M230.5 298.0L201.9 304.6M230.5 298.0L273.0 313.9M230.5 298.0L242.2 321.5M201.9 304.6L216.9 324.4M216.9 324.4L242.2 321.5M216.9 324.4L225.7 349.9M216.9 324.4L249.9 342.3M242.2 321.5L273.0 313.9M242.2 321.5L249.9 342.3M242.2 321.5L225.7 349.9M273.0 313.9L308.0 328.8M273.0 313.9L296.5 337.9M308.0 328.8L296.5 337.9M308.0 328.8L320.2 361.6M296.5 337.9L283.1 359.4M296.5 337.9L304.9 368.3M249.9 342.3L225.7 349.9M249.9 342.3L256.5 369.6M249.9 342.3L283.1 359.4M283.1 359.4L256.5 369.6M283.1 359.4L304.9 368.3M283.1 359.4L288.0 391.0M225.7 349.9L230.6 372.3M230.6 372.3L256.5 369.6M230.6 372.3L242.8 400.8M256.5 369.6L242.8 400.8M242.8 400.8L221.2 409.8M242.8 400.8L258.8 417.2M242.8 400.8L228.6 433.6M221.2 409.8L228.6 433.6M221.2 409.8L258.8 417.2M228.6 433.6L258.8 417.2M228.6 433.6L234.2 458.2M258.8 417.2L288.0 391.0M258.8 417.2L287.8 418.8M258.8 417.2L266.3 443.4M288.0 391.0L304.9 368.3M288.0 391.0L287.8 418.8M304.9 368.3L320.2 361.6M304.9 368.3L306.2 398.5M320.2 361.6L306.2 398.5M306.2 398.5L287.8 418.8M306.2 398.5L280.4 439.1M287.8 418.8L280.4 439.1M287.8 418.8L266.3 443.4M306.2 398.5L260.2 464.2M266.3 443.4L234.2 458.2M266.3 443.4L260.2 464.2M266.3 443.4L240.4 466.7M234.2 458.2L240.4 466.7M260.2 464.2L240.4 466.7M175.5 472.6L208.9 464.1M184.1 478.3L240.4 466.7M234.2 458.2L260.2 464.2M134.3 473.6L184.1 478.3" style="stroke:#837c6e"/>
</g>
<g class="n">
<circle class="g" cx="81.1" cy="337.9" r="7.9"/>
<circle class="g" cx="64.4" cy="374.2" r="7.9"/>
<circle class="g" cx="143.6" cy="304.0" r="7.9"/>
<circle class="g" cx="65.3" cy="396.9" r="7.9"/>
<text class="tg" x="81.3" y="340.7">3</text>
<text class="tg" x="64.6" y="376.9">4</text>
<text class="tg" x="143.8" y="306.7">8</text>
<text class="tg" x="65.5" y="399.7">11</text>
<circle class="r" cx="145.2" cy="285.7" r="7.9"/>
<circle class="r" cx="111.0" cy="307.6" r="7.9"/>
<circle class="r" cx="64.6" cy="414.6" r="7.9"/>
<circle class="r" cx="88.3" cy="449.6" r="7.9"/>
<circle class="r" cx="97.7" cy="328.8" r="7.9"/>
<circle class="r" cx="83.7" cy="362.7" r="7.9"/>
<circle class="r" cx="74.6" cy="435.0" r="7.9"/>
<circle class="r" cx="177.6" cy="313.5" r="7.9"/>
<circle class="r" cx="148.3" cy="328.0" r="7.9"/>
<circle class="r" cx="127.0" cy="339.3" r="7.9"/>
<circle class="r" cx="99.1" cy="354.8" r="7.9"/>
<circle class="r" cx="114.7" cy="373.6" r="7.9"/>
<circle class="r" cx="138.2" cy="360.4" r="7.9"/>
<circle class="r" cx="91.6" cy="386.5" r="7.9"/>
<circle class="r" cx="85.1" cy="414.8" r="7.9"/>
<circle class="r" cx="132.3" cy="397.8" r="7.9"/>
<circle class="r" cx="114.7" cy="412.1" r="7.9"/>
<circle class="r" cx="163.0" cy="344.3" r="7.9"/>
<text class="tr" x="145.4" y="288.5">1</text>
<text class="tr" x="111.2" y="310.3">2</text>
<text class="tr" x="64.8" y="417.3">5</text>
<text class="tr" x="88.5" y="452.4">6</text>
<text class="tr" x="97.9" y="331.6">9</text>
<text class="tr" x="83.9" y="365.4">10</text>
<text class="tr" x="74.8" y="437.7">12</text>
<text class="tr" x="177.8" y="316.3">13</text>
<text class="tr" x="148.5" y="330.8">14</text>
<text class="tr" x="127.2" y="342.1">15</text>
<text class="tr" x="99.3" y="357.6">16</text>
<text class="tr" x="114.9" y="376.3">17</text>
<text class="tr" x="138.4" y="363.1">18</text>
<text class="tr" x="91.8" y="389.2">19</text>
<text class="tr" x="85.3" y="417.5">20</text>
<text class="tr" x="132.5" y="400.6">21</text>
<text class="tr" x="114.9" y="414.9">22</text>
<text class="tr" x="163.2" y="347.0">29</text>
<circle class="b" cx="189.9" cy="285.0" r="7.9"/>
<circle class="b" cx="126.4" cy="429.9" r="7.9"/>
<circle class="b" cx="101.7" cy="440.5" r="7.9"/>
<circle class="b" cx="134.3" cy="473.6" r="7.9"/>
<circle class="b" cx="230.5" cy="298.0" r="7.9"/>
<circle class="b" cx="201.9" cy="304.6" r="7.9"/>
<circle class="b" cx="189.7" cy="332.3" r="7.9"/>
<circle class="b" cx="151.1" cy="378.1" r="7.9"/>
<circle class="b" cx="178.2" cy="360.7" r="7.9"/>
<circle class="b" cx="242.2" cy="321.5" r="7.9"/>
<circle class="b" cx="216.9" cy="324.4" r="7.9"/>
<circle class="b" cx="225.7" cy="349.9" r="7.9"/>
<circle class="b" cx="200.1" cy="356.4" r="7.9"/>
<circle class="b" cx="188.0" cy="391.6" r="7.9"/>
<circle class="b" cx="208.6" cy="385.0" r="7.9"/>
<circle class="b" cx="154.6" cy="426.6" r="7.9"/>
<circle class="b" cx="188.0" cy="419.5" r="7.9"/>
<circle class="b" cx="167.9" cy="449.7" r="7.9"/>
<circle class="b" cx="139.2" cy="455.9" r="7.9"/>
<circle class="b" cx="156.6" cy="473.9" r="7.9"/>
<circle class="b" cx="273.0" cy="313.9" r="7.9"/>
<circle class="b" cx="249.9" cy="342.3" r="7.9"/>
<circle class="b" cx="230.6" cy="372.3" r="7.9"/>
<circle class="b" cx="221.2" cy="409.8" r="7.9"/>
<circle class="b" cx="195.6" cy="444.1" r="7.9"/>
<circle class="b" cx="175.5" cy="472.6" r="7.9"/>
<circle class="b" cx="283.1" cy="359.4" r="7.9"/>
<circle class="b" cx="256.5" cy="369.6" r="7.9"/>
<circle class="b" cx="242.8" cy="400.8" r="7.9"/>
<circle class="b" cx="228.6" cy="433.6" r="7.9"/>
<circle class="b" cx="208.9" cy="464.1" r="7.9"/>
<circle class="b" cx="258.8" cy="417.2" r="7.9"/>
<circle class="b" cx="234.2" cy="458.2" r="7.9"/>
<circle class="b" cx="207.2" cy="487.7" r="7.9"/>
<circle class="b" cx="288.0" cy="391.0" r="7.9"/>
<circle class="b" cx="238.8" cy="484.0" r="7.9"/>
<circle class="b" cx="184.1" cy="478.3" r="7.9"/>
<circle class="b" cx="308.0" cy="328.8" r="7.9"/>
<circle class="b" cx="304.9" cy="368.3" r="7.9"/>
<circle class="b" cx="287.8" cy="418.8" r="7.9"/>
<circle class="b" cx="260.2" cy="464.2" r="7.9"/>
<circle class="b" cx="320.2" cy="361.6" r="7.9"/>
<circle class="b" cx="306.2" cy="398.5" r="7.9"/>
<circle class="b" cx="280.4" cy="439.1" r="7.9"/>
<circle class="b" cx="240.4" cy="466.7" r="7.9"/>
<circle class="b" cx="296.5" cy="337.9" r="7.9"/>
<circle class="b" cx="266.3" cy="443.4" r="7.9"/>
<text class="tb" x="190.1" y="287.8">7</text>
<text class="tb" x="126.6" y="432.6">23</text>
<text class="tb" x="101.9" y="443.3">24</text>
<text class="tb" x="134.5" y="476.3">25</text>
<text class="tb" x="230.7" y="300.8">26</text>
<text class="tb" x="202.1" y="307.3">27</text>
<text class="tb" x="189.9" y="335.0">28</text>
<text class="tb" x="151.3" y="380.8">30</text>
<text class="tb" x="178.4" y="363.4">31</text>
<text class="tb" x="242.4" y="324.2">32</text>
<text class="tb" x="217.1" y="327.2">33</text>
<text class="tb" x="225.9" y="352.6">34</text>
<text class="tb" x="200.3" y="359.2">35</text>
<text class="tb" x="188.2" y="394.3">36</text>
<text class="tb" x="208.8" y="387.8">37</text>
<text class="tb" x="154.8" y="429.4">38</text>
<text class="tb" x="188.2" y="422.2">39</text>
<text class="tb" x="168.1" y="452.5">40</text>
<text class="tb" x="139.4" y="458.7">41</text>
<text class="tb" x="156.8" y="476.6">42</text>
<text class="tb" x="273.2" y="316.7">43</text>
<text class="tb" x="250.1" y="345.1">44</text>
<text class="tb" x="230.8" y="375.0">45</text>
<text class="tb" x="221.4" y="412.6">46</text>
<text class="tb" x="195.8" y="446.8">47</text>
<text class="tb" x="175.7" y="475.3">48</text>
<text class="tb" x="283.3" y="362.1">49</text>
<text class="tb" x="256.7" y="372.4">50</text>
<text class="tb" x="243.0" y="403.5">51</text>
<text class="tb" x="228.8" y="436.3">52</text>
<text class="tb" x="209.1" y="466.9">53</text>
<text class="tb" x="259.0" y="419.9">54</text>
<text class="tb" x="234.4" y="460.9">55</text>
<text class="tb" x="207.4" y="490.4">56</text>
<text class="tb" x="288.2" y="393.7">58</text>
<text class="tb" x="239.0" y="486.7">60</text>
<text class="tb" x="184.3" y="481.1">61</text>
<text class="tb" x="308.2" y="331.6">62</text>
<text class="tb" x="305.1" y="371.1">63</text>
<text class="tb" x="288.0" y="421.5">64</text>
<text class="tb" x="260.4" y="467.0">65</text>
<text class="tb" x="320.4" y="364.3">66</text>
<text class="tb" x="306.4" y="401.3">67</text>
<text class="tb" x="280.6" y="441.9">68</text>
<text class="tb" x="240.6" y="469.5">69</text>
<text class="tb" x="296.7" y="340.7">57</text>
<text class="tb" x="266.5" y="446.1">59</text>
</g>
<g class="e">
<path d="M425.8 285.8L470.9 285.1M425.8 285.8L391.4 307.8M425.8 285.8L424.2 304.2M391.4 307.8L424.2 304.2M391.4 307.8L378.1 329.2M391.4 307.8L361.4 338.4M361.4 338.4L378.1 329.2M361.4 338.4L344.4 374.9M361.4 338.4L363.9 363.3M470.9 285.1L482.9 304.8M470.9 285.1L511.8 298.2M424.2 304.2L458.5 313.8M424.2 304.2L429.0 328.4M378.1 329.2L407.5 339.8M378.1 329.2L379.5 355.4M458.5 313.8L429.0 328.4M458.5 313.8L482.9 304.8M458.5 313.8L498.1 324.8M458.5 313.8L470.7 332.7M429.0 328.4L407.5 339.8M429.0 328.4L418.8 361.0M429.0 328.4L443.7 344.8M407.5 339.8L379.5 355.4M407.5 339.8L418.8 361.0M407.5 339.8L443.7 344.8M363.9 363.3L395.2 374.3M363.9 363.3L371.9 387.3M363.9 363.3L344.4 374.9M379.5 355.4L395.2 374.3M379.5 355.4L371.9 387.3M395.2 374.3L418.8 361.0M395.2 374.3L431.8 378.8M395.2 374.3L371.9 387.3M395.2 374.3L412.9 398.7M418.8 361.0L443.7 344.8M418.8 361.0L431.8 378.8M418.8 361.0L412.9 398.7M371.9 387.3L345.4 397.8M371.9 387.3L365.3 415.8M371.9 387.3L395.2 413.1M344.4 374.9L345.4 397.8M345.4 397.8L344.6 415.6M345.4 397.8L365.3 415.8M344.6 415.6L354.8 436.1M344.6 415.6L368.5 450.9M365.3 415.8L395.2 413.1M365.3 415.8L354.8 436.1M365.3 415.8L382.1 441.7M412.9 398.7L395.2 413.1M412.9 398.7L431.8 378.8M412.9 398.7L406.9 431.0M412.9 398.7L435.3 427.7M395.2 413.1L406.9 431.0M395.2 413.1L435.3 427.7M406.9 431.0L435.3 427.7M406.9 431.0L382.1 441.7M406.9 431.0L419.9 457.2M354.8 436.1L382.1 441.7M354.8 436.1L368.5 450.9M382.1 441.7L419.9 457.2M368.5 450.9L414.9 475.0M431.8 378.8L459.1 361.3M431.8 378.8L468.9 392.4M459.1 361.3L443.7 344.8M459.1 361.3L470.7 332.7M459.1 361.3L481.2 357.0M459.1 361.3L468.9 392.4M443.7 344.8L470.7 332.7M443.7 344.8L481.2 357.0M470.7 332.7L482.9 304.8M470.7 332.7L498.1 324.8M470.7 332.7L481.2 357.0M481.2 357.0L506.9 350.4M481.2 357.0L489.7 385.8M481.2 357.0L511.9 373.0M468.9 392.4L489.7 385.8M468.9 392.4L468.9 420.5M468.9 392.4L502.4 410.8M489.7 385.8L506.9 350.4M489.7 385.8L511.9 373.0M489.7 385.8L502.4 410.8M489.7 385.8L468.9 420.5M435.3 427.7L468.9 420.5M435.3 427.7L448.7 451.0M435.3 427.7L476.6 445.3M468.9 420.5L502.4 410.8M468.9 420.5L476.6 445.3M468.9 420.5L448.7 451.0M448.7 451.0L419.9 457.2M448.7 451.0L476.6 445.3M448.7 451.0L437.4 475.3M448.7 451.0L456.4 474.0M419.9 457.2L437.4 475.3M419.9 457.2L456.4 474.0M414.9 475.0L437.4 475.3M437.4 475.3L456.4 474.0M476.6 445.3L509.8 434.7M476.6 445.3L490.0 465.5M476.6 445.3L515.5 459.5M490.0 465.5L509.8 434.7M490.0 465.5L488.3 489.2M490.0 465.5L515.5 459.5M488.3 489.2L520.2 485.5M520.2 485.5L521.7 468.1M520.2 485.5L541.6 465.6M465.0 479.8L488.3 489.2M511.8 298.2L482.9 304.8M511.8 298.2L554.6 314.2M511.8 298.2L523.5 321.8M482.9 304.8L498.1 324.8M498.1 324.8L523.5 321.8M498.1 324.8L506.9 350.4M498.1 324.8L531.3 342.8M523.5 321.8L554.6 314.2M523.5 321.8L531.3 342.8M523.5 321.8L506.9 350.4M554.6 314.2L589.8 329.2M554.6 314.2L578.3 338.4M589.8 329.2L578.3 338.4M589.8 329.2L602.1 362.2M578.3 338.4L564.7 360.0M578.3 338.4L586.7 369.0M531.3 342.8L506.9 350.4M531.3 342.8L538.0 370.3M531.3 342.8L564.7 360.0M564.7 360.0L538.0 370.3M564.7 360.0L586.7 369.0M564.7 360.0L569.7 391.8M506.9 350.4L511.9 373.0M511.9 373.0L538.0 370.3M511.9 373.0L524.1 401.7M538.0 370.3L524.1 401.7M524.1 401.7L502.4 410.8M524.1 401.7L540.3 418.2M524.1 401.7L509.8 434.7M502.4 410.8L509.8 434.7M502.4 410.8L540.3 418.2M509.8 434.7L540.3 418.2M509.8 434.7L515.5 459.5M540.3 418.2L569.7 391.8M540.3 418.2L569.5 419.8M540.3 418.2L547.8 444.6M569.7 391.8L586.7 369.0M569.7 391.8L569.5 419.8M586.7 369.0L602.1 362.2M586.7 369.0L588.0 399.4M602.1 362.2L588.0 399.4M588.0 399.4L569.5 419.8M588.0 399.4L562.0 440.3M569.5 419.8L562.0 440.3M569.5 419.8L547.8 444.6M588.0 399.4L541.6 465.6M547.8 444.6L515.5 459.5M547.8 444.6L541.6 465.6M547.8 444.6L521.7 468.1M515.5 459.5L521.7 468.1M541.6 465.6L521.7 468.1M456.4 474.0L490.0 465.5M465.0 479.8L521.7 468.1M515.5 459.5L541.6 465.6M414.9 475.0L465.0 479.8" style="stroke:#747777"/>
</g>
<g class="n">
<circle class="g" cx="425.8" cy="285.8" r="8.0"/>
<circle class="g" cx="391.4" cy="307.8" r="8.0"/>
<circle class="g" cx="361.4" cy="338.4" r="8.0"/>
<circle class="g" cx="344.4" cy="374.9" r="8.0"/>
<circle class="g" cx="368.5" cy="450.9" r="8.0"/>
<circle class="g" cx="424.2" cy="304.2" r="8.0"/>
<circle class="g" cx="363.9" cy="363.3" r="8.0"/>
<circle class="g" cx="345.4" cy="397.8" r="8.0"/>
<circle class="g" cx="354.8" cy="436.1" r="8.0"/>
<circle class="g" cx="458.5" cy="313.8" r="8.0"/>
<circle class="g" cx="407.5" cy="339.8" r="8.0"/>
<circle class="g" cx="379.5" cy="355.4" r="8.0"/>
<circle class="g" cx="395.2" cy="374.3" r="8.0"/>
<circle class="g" cx="418.8" cy="361.0" r="8.0"/>
<circle class="g" cx="371.9" cy="387.3" r="8.0"/>
<circle class="g" cx="365.3" cy="415.8" r="8.0"/>
<circle class="g" cx="412.9" cy="398.7" r="8.0"/>
<circle class="g" cx="395.2" cy="413.1" r="8.0"/>
<circle class="g" cx="406.9" cy="431.0" r="8.0"/>
<circle class="g" cx="382.1" cy="441.7" r="8.0"/>
<circle class="g" cx="511.8" cy="298.2" r="8.0"/>
<circle class="g" cx="482.9" cy="304.8" r="8.0"/>
<circle class="g" cx="470.7" cy="332.7" r="8.0"/>
<circle class="g" cx="443.7" cy="344.8" r="8.0"/>
<circle class="g" cx="431.8" cy="378.8" r="8.0"/>
<circle class="g" cx="523.5" cy="321.8" r="8.0"/>
<circle class="g" cx="498.1" cy="324.8" r="8.0"/>
<circle class="g" cx="506.9" cy="350.4" r="8.0"/>
<circle class="g" cx="481.2" cy="357.0" r="8.0"/>
<circle class="g" cx="468.9" cy="392.4" r="8.0"/>
<circle class="g" cx="435.3" cy="427.7" r="8.0"/>
<circle class="g" cx="448.7" cy="451.0" r="8.0"/>
<circle class="g" cx="419.9" cy="457.2" r="8.0"/>
<circle class="g" cx="531.3" cy="342.8" r="8.0"/>
<circle class="g" cx="511.9" cy="373.0" r="8.0"/>
<circle class="g" cx="476.6" cy="445.3" r="8.0"/>
<circle class="g" cx="538.0" cy="370.3" r="8.0"/>
<circle class="g" cx="524.1" cy="401.7" r="8.0"/>
<circle class="g" cx="490.0" cy="465.5" r="8.0"/>
<circle class="g" cx="515.5" cy="459.5" r="8.0"/>
<circle class="g" cx="520.2" cy="485.5" r="8.0"/>
<circle class="g" cx="465.0" cy="479.8" r="8.0"/>
<circle class="g" cx="589.8" cy="329.2" r="8.0"/>
<circle class="g" cx="547.8" cy="444.6" r="8.0"/>
<text class="tg" x="426.0" y="288.5">1</text>
<text class="tg" x="391.6" y="310.5">2</text>
<text class="tg" x="361.6" y="341.1">3</text>
<text class="tg" x="344.6" y="377.6">4</text>
<text class="tg" x="368.7" y="453.6">6</text>
<text class="tg" x="424.4" y="306.9">8</text>
<text class="tg" x="364.1" y="366.1">10</text>
<text class="tg" x="345.6" y="400.5">11</text>
<text class="tg" x="355.0" y="438.9">12</text>
<text class="tg" x="458.7" y="316.5">13</text>
<text class="tg" x="407.7" y="342.5">15</text>
<text class="tg" x="379.7" y="358.1">16</text>
<text class="tg" x="395.4" y="377.0">17</text>
<text class="tg" x="419.0" y="363.7">18</text>
<text class="tg" x="372.1" y="390.0">19</text>
<text class="tg" x="365.5" y="418.6">20</text>
<text class="tg" x="413.1" y="401.5">21</text>
<text class="tg" x="395.4" y="415.8">22</text>
<text class="tg" x="407.1" y="433.8">23</text>
<text class="tg" x="382.2" y="444.4">24</text>
<text class="tg" x="512.0" y="300.9">26</text>
<text class="tg" x="483.1" y="307.5">27</text>
<text class="tg" x="470.9" y="335.4">28</text>
<text class="tg" x="443.9" y="347.5">29</text>
<text class="tg" x="432.0" y="381.6">30</text>
<text class="tg" x="523.7" y="324.5">32</text>
<text class="tg" x="498.3" y="327.5">33</text>
<text class="tg" x="507.1" y="353.1">34</text>
<text class="tg" x="481.4" y="359.7">35</text>
<text class="tg" x="469.1" y="395.1">36</text>
<text class="tg" x="435.5" y="430.5">38</text>
<text class="tg" x="448.9" y="453.7">40</text>
<text class="tg" x="420.1" y="460.0">41</text>
<text class="tg" x="531.5" y="345.5">44</text>
<text class="tg" x="512.1" y="375.7">45</text>
<text class="tg" x="476.8" y="448.0">47</text>
<text class="tg" x="538.2" y="373.0">50</text>
<text class="tg" x="524.3" y="404.4">51</text>
<text class="tg" x="490.2" y="468.2">53</text>
<text class="tg" x="515.7" y="462.2">55</text>
<text class="tg" x="520.4" y="488.2">60</text>
<text class="tg" x="465.2" y="482.5">61</text>
<text class="tg" x="590.0" y="331.9">62</text>
<text class="tg" x="548.0" y="447.3">59</text>
<circle class="r" cx="344.6" cy="415.6" r="8.0"/>
<circle class="r" cx="470.9" cy="285.1" r="8.0"/>
<circle class="r" cx="378.1" cy="329.2" r="8.0"/>
<circle class="r" cx="429.0" cy="328.4" r="8.0"/>
<circle class="r" cx="414.9" cy="475.0" r="8.0"/>
<circle class="r" cx="459.1" cy="361.3" r="8.0"/>
<circle class="r" cx="489.7" cy="385.8" r="8.0"/>
<circle class="r" cx="468.9" cy="420.5" r="8.0"/>
<circle class="r" cx="437.4" cy="475.3" r="8.0"/>
<circle class="r" cx="554.6" cy="314.2" r="8.0"/>
<circle class="r" cx="502.4" cy="410.8" r="8.0"/>
<circle class="r" cx="456.4" cy="474.0" r="8.0"/>
<circle class="r" cx="564.7" cy="360.0" r="8.0"/>
<circle class="r" cx="509.8" cy="434.7" r="8.0"/>
<circle class="r" cx="540.3" cy="418.2" r="8.0"/>
<circle class="r" cx="488.3" cy="489.2" r="8.0"/>
<circle class="r" cx="569.7" cy="391.8" r="8.0"/>
<circle class="r" cx="586.7" cy="369.0" r="8.0"/>
<circle class="r" cx="569.5" cy="419.8" r="8.0"/>
<circle class="r" cx="541.6" cy="465.6" r="8.0"/>
<circle class="r" cx="602.1" cy="362.2" r="8.0"/>
<circle class="r" cx="588.0" cy="399.4" r="8.0"/>
<circle class="r" cx="562.0" cy="440.3" r="8.0"/>
<circle class="r" cx="521.7" cy="468.1" r="8.0"/>
<circle class="r" cx="578.3" cy="338.4" r="8.0"/>
<text class="tr" x="344.8" y="418.3">5</text>
<text class="tr" x="471.1" y="287.8">7</text>
<text class="tr" x="378.3" y="331.9">9</text>
<text class="tr" x="429.2" y="331.1">14</text>
<text class="tr" x="415.1" y="477.7">25</text>
<text class="tr" x="459.3" y="364.0">31</text>
<text class="tr" x="489.9" y="388.5">37</text>
<text class="tr" x="469.1" y="423.2">39</text>
<text class="tr" x="437.6" y="478.0">42</text>
<text class="tr" x="554.8" y="316.9">43</text>
<text class="tr" x="502.6" y="413.5">46</text>
<text class="tr" x="456.6" y="476.7">48</text>
<text class="tr" x="564.9" y="362.7">49</text>
<text class="tr" x="510.0" y="437.4">52</text>
<text class="tr" x="540.5" y="420.9">54</text>
<text class="tr" x="488.5" y="491.9">56</text>
<text class="tr" x="569.9" y="394.5">58</text>
<text class="tr" x="586.9" y="371.7">63</text>
<text class="tr" x="569.7" y="422.5">64</text>
<text class="tr" x="541.8" y="468.3">65</text>
<text class="tr" x="602.3" y="364.9">66</text>
<text class="tr" x="588.2" y="402.1">67</text>
<text class="tr" x="562.2" y="443.0">68</text>
<text class="tr" x="521.9" y="470.8">69</text>
<text class="tr" x="578.5" y="341.1">57</text>
</g>
<g class="e">
<path d="M706.6 286.5L751.9 285.8M706.6 286.5L672.0 308.6M706.6 286.5L705.0 305.0M672.0 308.6L705.0 305.0M672.0 308.6L658.6 330.1M672.0 308.6L641.8 339.3M641.8 339.3L658.6 330.1M641.8 339.3L624.8 376.0M641.8 339.3L644.4 364.4M751.9 285.8L764.0 305.6M751.9 285.8L793.0 298.9M705.0 305.0L739.4 314.6M705.0 305.0L709.8 329.3M658.6 330.1L688.2 340.7M658.6 330.1L660.0 356.4M739.4 314.6L709.8 329.3M739.4 314.6L764.0 305.6M739.4 314.6L779.2 325.7M739.4 314.6L751.7 333.6M709.8 329.3L688.2 340.7M709.8 329.3L699.5 362.0M709.8 329.3L724.6 345.8M688.2 340.7L660.0 356.4M688.2 340.7L699.5 362.0M688.2 340.7L724.6 345.8M644.4 364.4L675.8 375.4M644.4 364.4L652.4 388.5M644.4 364.4L624.8 376.0M660.0 356.4L675.8 375.4M660.0 356.4L652.4 388.5M675.8 375.4L699.5 362.0M675.8 375.4L712.6 379.9M675.8 375.4L652.4 388.5M675.8 375.4L693.6 399.9M699.5 362.0L724.6 345.8M699.5 362.0L712.6 379.9M699.5 362.0L693.6 399.9M652.4 388.5L625.8 399.0M652.4 388.5L645.8 417.1M652.4 388.5L675.8 414.4M624.8 376.0L625.8 399.0M625.8 399.0L625.0 416.9M625.8 399.0L645.8 417.1M625.0 416.9L635.2 437.5M625.0 416.9L649.0 452.4M645.8 417.1L675.8 414.4M645.8 417.1L635.2 437.5M645.8 417.1L662.6 443.1M693.6 399.9L675.8 414.4M693.6 399.9L712.6 379.9M693.6 399.9L687.6 432.4M693.6 399.9L716.1 429.1M675.8 414.4L687.6 432.4M675.8 414.4L716.1 429.1M687.6 432.4L716.1 429.1M687.6 432.4L662.6 443.1M687.6 432.4L700.6 458.7M635.2 437.5L662.6 443.1M635.2 437.5L649.0 452.4M662.6 443.1L700.6 458.7M649.0 452.4L695.6 476.6M712.6 379.9L740.0 362.3M712.6 379.9L749.9 393.6M740.0 362.3L724.6 345.8M740.0 362.3L751.7 333.6M740.0 362.3L762.2 358.0M740.0 362.3L749.9 393.6M724.6 345.8L751.7 333.6M724.6 345.8L762.2 358.0M751.7 333.6L764.0 305.6M751.7 333.6L779.2 325.7M751.7 333.6L762.2 358.0M762.2 358.0L788.1 351.4M762.2 358.0L770.8 387.0M762.2 358.0L793.1 374.1M749.9 393.6L770.8 387.0M749.9 393.6L749.9 421.8M749.9 393.6L783.6 412.1M770.8 387.0L788.1 351.4M770.8 387.0L793.1 374.1M770.8 387.0L783.6 412.1M770.8 387.0L749.9 421.8M716.1 429.1L749.9 421.8M716.1 429.1L729.6 452.5M716.1 429.1L757.6 446.8M749.9 421.8L783.6 412.1M749.9 421.8L757.6 446.8M749.9 421.8L729.6 452.5M729.6 452.5L700.6 458.7M729.6 452.5L757.6 446.8M729.6 452.5L718.2 476.9M729.6 452.5L737.3 475.6M700.6 458.7L718.2 476.9M700.6 458.7L737.3 475.6M695.6 476.6L718.2 476.9M718.2 476.9L737.3 475.6M757.6 446.8L791.0 436.1M757.6 446.8L771.1 467.1M757.6 446.8L796.7 461.0M771.1 467.1L791.0 436.1M771.1 467.1L769.4 490.9M771.1 467.1L796.7 461.0M769.4 490.9L801.4 487.2M801.4 487.2L803.0 469.7M801.4 487.2L823.0 467.2M746.0 481.4L769.4 490.9M793.0 298.9L764.0 305.6M793.0 298.9L836.0 315.0M793.0 298.9L804.8 322.6M764.0 305.6L779.2 325.7M779.2 325.7L804.8 322.6M779.2 325.7L788.1 351.4M779.2 325.7L812.6 343.8M804.8 322.6L836.0 315.0M804.8 322.6L812.6 343.8M804.8 322.6L788.1 351.4M836.0 315.0L871.4 330.1M836.0 315.0L859.8 339.3M871.4 330.1L859.8 339.3M871.4 330.1L883.8 363.2M859.8 339.3L846.2 361.0M859.8 339.3L868.3 370.1M812.6 343.8L788.1 351.4M812.6 343.8L819.3 371.4M812.6 343.8L846.2 361.0M846.2 361.0L819.3 371.4M846.2 361.0L868.3 370.1M846.2 361.0L851.2 393.0M788.1 351.4L793.1 374.1M793.1 374.1L819.3 371.4M793.1 374.1L805.4 402.9M819.3 371.4L805.4 402.9M805.4 402.9L783.6 412.1M805.4 402.9L821.6 419.5M805.4 402.9L791.0 436.1M783.6 412.1L791.0 436.1M783.6 412.1L821.6 419.5M791.0 436.1L821.6 419.5M791.0 436.1L796.7 461.0M821.6 419.5L851.2 393.0M821.6 419.5L851.0 421.1M821.6 419.5L829.2 446.1M851.2 393.0L868.3 370.1M851.2 393.0L851.0 421.1M868.3 370.1L883.8 363.2M868.3 370.1L869.6 400.6M883.8 363.2L869.6 400.6M869.6 400.6L851.0 421.1M869.6 400.6L843.5 441.7M851.0 421.1L843.5 441.7M851.0 421.1L829.2 446.1M869.6 400.6L823.0 467.2M829.2 446.1L796.7 461.0M829.2 446.1L823.0 467.2M829.2 446.1L803.0 469.7M796.7 461.0L803.0 469.7M823.0 467.2L803.0 469.7M737.3 475.6L771.1 467.1M746.0 481.4L803.0 469.7M796.7 461.0L823.0 467.2M695.6 476.6L746.0 481.4" style="stroke:#8b757c"/>
</g>
<g class="n">
<circle class="g" cx="706.6" cy="286.5" r="8.0"/>
<circle class="g" cx="672.0" cy="308.6" r="8.0"/>
<circle class="g" cx="641.8" cy="339.3" r="8.0"/>
<circle class="g" cx="624.8" cy="376.0" r="8.0"/>
<circle class="g" cx="625.0" cy="416.9" r="8.0"/>
<circle class="g" cx="649.0" cy="452.4" r="8.0"/>
<circle class="g" cx="751.9" cy="285.8" r="8.0"/>
<circle class="g" cx="705.0" cy="305.0" r="8.0"/>
<circle class="g" cx="658.6" cy="330.1" r="8.0"/>
<circle class="g" cx="644.4" cy="364.4" r="8.0"/>
<circle class="g" cx="625.8" cy="399.0" r="8.0"/>
<circle class="g" cx="635.2" cy="437.5" r="8.0"/>
<circle class="g" cx="739.4" cy="314.6" r="8.0"/>
<circle class="g" cx="709.8" cy="329.3" r="8.0"/>
<circle class="g" cx="688.2" cy="340.7" r="8.0"/>
<circle class="g" cx="660.0" cy="356.4" r="8.0"/>
<circle class="g" cx="675.8" cy="375.4" r="8.0"/>
<circle class="g" cx="699.5" cy="362.0" r="8.0"/>
<circle class="g" cx="652.4" cy="388.5" r="8.0"/>
<circle class="g" cx="645.8" cy="417.1" r="8.0"/>
<circle class="g" cx="693.6" cy="399.9" r="8.0"/>
<circle class="g" cx="675.8" cy="414.4" r="8.0"/>
<circle class="g" cx="687.6" cy="432.4" r="8.0"/>
<circle class="g" cx="662.6" cy="443.1" r="8.0"/>
<circle class="g" cx="695.6" cy="476.6" r="8.0"/>
<circle class="g" cx="793.0" cy="298.9" r="8.0"/>
<circle class="g" cx="764.0" cy="305.6" r="8.0"/>
<circle class="g" cx="751.7" cy="333.6" r="8.0"/>
<circle class="g" cx="724.6" cy="345.8" r="8.0"/>
<circle class="g" cx="712.6" cy="379.9" r="8.0"/>
<circle class="g" cx="740.0" cy="362.3" r="8.0"/>
<circle class="g" cx="804.8" cy="322.6" r="8.0"/>
<circle class="g" cx="779.2" cy="325.7" r="8.0"/>
<circle class="g" cx="788.1" cy="351.4" r="8.0"/>
<circle class="g" cx="762.2" cy="358.0" r="8.0"/>
<circle class="g" cx="749.9" cy="393.6" r="8.0"/>
<circle class="g" cx="770.8" cy="387.0" r="8.0"/>
<circle class="g" cx="716.1" cy="429.1" r="8.0"/>
<circle class="g" cx="749.9" cy="421.8" r="8.0"/>
<circle class="g" cx="729.6" cy="452.5" r="8.0"/>
<circle class="g" cx="700.6" cy="458.7" r="8.0"/>
<circle class="g" cx="718.2" cy="476.9" r="8.0"/>
<circle class="g" cx="836.0" cy="315.0" r="8.0"/>
<circle class="g" cx="812.6" cy="343.8" r="8.0"/>
<circle class="g" cx="793.1" cy="374.1" r="8.0"/>
<circle class="g" cx="783.6" cy="412.1" r="8.0"/>
<circle class="g" cx="757.6" cy="446.8" r="8.0"/>
<circle class="g" cx="737.3" cy="475.6" r="8.0"/>
<circle class="g" cx="846.2" cy="361.0" r="8.0"/>
<circle class="g" cx="819.3" cy="371.4" r="8.0"/>
<circle class="g" cx="805.4" cy="402.9" r="8.0"/>
<circle class="g" cx="791.0" cy="436.1" r="8.0"/>
<circle class="g" cx="771.1" cy="467.1" r="8.0"/>
<circle class="g" cx="821.6" cy="419.5" r="8.0"/>
<circle class="g" cx="796.7" cy="461.0" r="8.0"/>
<circle class="g" cx="769.4" cy="490.9" r="8.0"/>
<circle class="g" cx="851.2" cy="393.0" r="8.0"/>
<circle class="g" cx="801.4" cy="487.2" r="8.0"/>
<circle class="g" cx="746.0" cy="481.4" r="8.0"/>
<circle class="g" cx="871.4" cy="330.1" r="8.0"/>
<circle class="g" cx="868.3" cy="370.1" r="8.0"/>
<circle class="g" cx="851.0" cy="421.1" r="8.0"/>
<circle class="g" cx="823.0" cy="467.2" r="8.0"/>
<circle class="g" cx="883.8" cy="363.2" r="8.0"/>
<circle class="g" cx="869.6" cy="400.6" r="8.0"/>
<circle class="g" cx="843.5" cy="441.7" r="8.0"/>
<circle class="g" cx="803.0" cy="469.7" r="8.0"/>
<circle class="g" cx="859.8" cy="339.3" r="8.0"/>
<circle class="g" cx="829.2" cy="446.1" r="8.0"/>
<text class="tg" x="706.8" y="289.2">1</text>
<text class="tg" x="672.2" y="311.3">2</text>
<text class="tg" x="642.0" y="342.1">3</text>
<text class="tg" x="625.0" y="378.8">4</text>
<text class="tg" x="625.2" y="419.7">5</text>
<text class="tg" x="649.2" y="455.1">6</text>
<text class="tg" x="752.1" y="288.5">7</text>
<text class="tg" x="705.2" y="307.7">8</text>
<text class="tg" x="658.8" y="332.8">9</text>
<text class="tg" x="644.6" y="367.1">10</text>
<text class="tg" x="626.0" y="401.8">11</text>
<text class="tg" x="635.4" y="440.3">12</text>
<text class="tg" x="739.6" y="317.4">13</text>
<text class="tg" x="710.0" y="332.0">14</text>
<text class="tg" x="688.4" y="343.5">15</text>
<text class="tg" x="660.2" y="359.2">16</text>
<text class="tg" x="676.0" y="378.2">17</text>
<text class="tg" x="699.7" y="364.8">18</text>
<text class="tg" x="652.6" y="391.2">19</text>
<text class="tg" x="646.0" y="419.9">20</text>
<text class="tg" x="693.8" y="402.7">21</text>
<text class="tg" x="676.0" y="417.2">22</text>
<text class="tg" x="687.8" y="435.1">23</text>
<text class="tg" x="662.8" y="445.9">24</text>
<text class="tg" x="695.8" y="479.4">25</text>
<text class="tg" x="793.2" y="301.7">26</text>
<text class="tg" x="764.2" y="308.3">27</text>
<text class="tg" x="751.9" y="336.3">28</text>
<text class="tg" x="724.8" y="348.5">29</text>
<text class="tg" x="712.8" y="382.7">30</text>
<text class="tg" x="740.2" y="365.1">31</text>
<text class="tg" x="805.0" y="325.4">32</text>
<text class="tg" x="779.4" y="328.4">33</text>
<text class="tg" x="788.3" y="354.1">34</text>
<text class="tg" x="762.4" y="360.8">35</text>
<text class="tg" x="750.1" y="396.3">36</text>
<text class="tg" x="771.0" y="389.7">37</text>
<text class="tg" x="716.3" y="431.8">38</text>
<text class="tg" x="750.1" y="424.6">39</text>
<text class="tg" x="729.8" y="455.2">40</text>
<text class="tg" x="700.8" y="461.5">41</text>
<text class="tg" x="718.4" y="479.7">42</text>
<text class="tg" x="836.2" y="317.8">43</text>
<text class="tg" x="812.8" y="346.5">44</text>
<text class="tg" x="793.3" y="376.9">45</text>
<text class="tg" x="783.8" y="414.8">46</text>
<text class="tg" x="757.8" y="449.5">47</text>
<text class="tg" x="737.5" y="478.4">48</text>
<text class="tg" x="846.4" y="363.8">49</text>
<text class="tg" x="819.5" y="374.1">50</text>
<text class="tg" x="805.6" y="405.7">51</text>
<text class="tg" x="791.2" y="438.9">52</text>
<text class="tg" x="771.3" y="469.8">53</text>
<text class="tg" x="821.8" y="422.3">54</text>
<text class="tg" x="796.9" y="463.8">55</text>
<text class="tg" x="769.6" y="493.6">56</text>
<text class="tg" x="851.4" y="395.7">58</text>
<text class="tg" x="801.6" y="489.9">60</text>
<text class="tg" x="746.2" y="484.2">61</text>
<text class="tg" x="871.6" y="332.8">62</text>
<text class="tg" x="868.5" y="372.8">63</text>
<text class="tg" x="851.2" y="423.9">64</text>
<text class="tg" x="823.2" y="469.9">65</text>
<text class="tg" x="884.0" y="366.0">66</text>
<text class="tg" x="869.8" y="403.4">67</text>
<text class="tg" x="843.7" y="444.5">68</text>
<text class="tg" x="803.2" y="472.4">69</text>
<text class="tg" x="860.0" y="342.1">57</text>
<text class="tg" x="829.4" y="448.8">59</text>
</g>
<path d="M140.6 247.9L889.5 249.8" stroke="#000" stroke-width="3.3" fill="none"/>
<path d="M898.2 249.9L888 244.9L889.2 249.8L887.9 254.8Z" fill="#000"/>
<text class="lb" x="120.9" y="242.6" textLength="36.4" lengthAdjust="spacingAndGlyphs">0 min</text>
<text class="lb" x="400.3" y="242.6" textLength="36.0" lengthAdjust="spacingAndGlyphs">6 min</text>
<text class="lb" x="676.4" y="242.6" textLength="43.9" lengthAdjust="spacingAndGlyphs">13 min</text>
<text class="lb" x="174.4" y="268.5" textLength="35.6" lengthAdjust="spacingAndGlyphs">3 min</text>
<text class="lb" x="453.3" y="268.5" textLength="36.0" lengthAdjust="spacingAndGlyphs">9 min</text>
<text class="lb" x="729.6" y="268.5" textLength="43.7" lengthAdjust="spacingAndGlyphs">19 min</text>
<text class="it" x="888.6" y="268.3">t</text>
</svg>
</body></html>
